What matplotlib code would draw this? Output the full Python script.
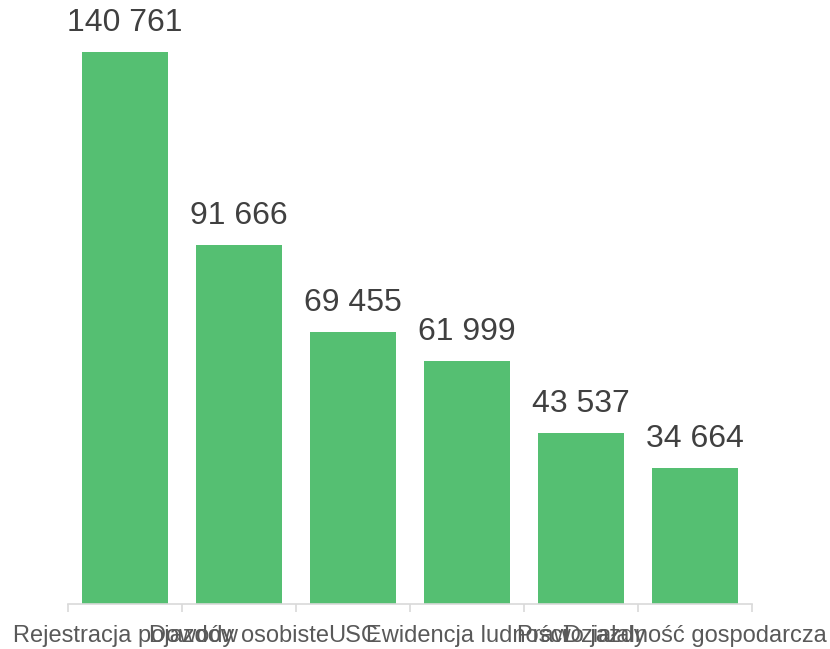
import matplotlib
matplotlib.use('Agg')
import matplotlib.pyplot as plt

kategorie = ['Rejestracja pojazdów', 'Dowody osobiste', 'USC', 'Ewidencja ludności',
             'Prawo jazdy', 'Działalność gospodarcza']
wartosci = [140761, 91666, 69455, 61999, 43537, 34664]

plt.rcParams['font.family'] = ['Liberation Sans', 'DejaVu Sans']

fig = plt.figure(figsize=(8.3, 6.49), dpi=100)
ax = fig.add_axes([68 / 830, 45 / 649, 684 / 830, 552 / 649])

x = list(range(len(kategorie)))
ax.bar(x, wartosci, width=0.76, color='#55BF72')
ax.set_xlim(-0.5, len(kategorie) - 0.5)
ax.set_ylim(0, max(wartosci))

for a, b in zip(x, wartosci):
    s = '{:,}'.format(b).replace(',', ' ')
    ax.annotate(s, (a, b), xytext=(0, 10), textcoords='offset points',
                ha='center', va='bottom', fontsize=23, color='#404040',
                annotation_clip=False)

for side in ['top', 'right', 'left']:
    ax.spines[side].set_visible(False)
ax.spines['bottom'].set_color('#D9D9D9')
ax.spines['bottom'].set_linewidth(1.2)
ax.set_yticks([])

# ticks on category boundaries, labels centered
ax.set_xticks([i - 0.5 for i in range(len(kategorie) + 1)])
ax.set_xticklabels([])
ax.tick_params(axis='x', length=6, width=1.2, color='#D9D9D9')
ax.set_xticks(x, minor=True)
ax.set_xticklabels(kategorie, minor=True, fontsize=17, color='#595959')
ax.tick_params(axis='x', which='minor', length=0, pad=15)

plt.savefig('out.png', dpi=100)
